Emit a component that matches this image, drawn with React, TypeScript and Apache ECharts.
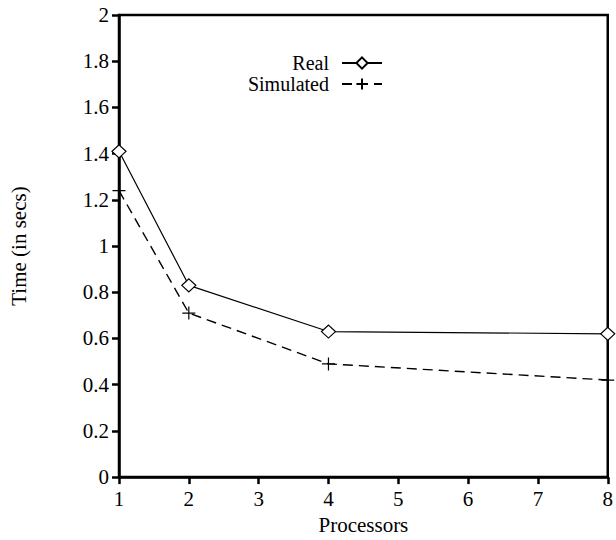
import React, { useEffect, useRef } from "react";
import * as echarts from "echarts";

const processors = [1, 2, 4, 8];
const realTimes = [1.41, 0.83, 0.63, 0.62];
const simulatedTimes = [1.24, 0.71, 0.49, 0.42];

const FONT = "Liberation Serif";
const PLUS = "path://M0,6H12M6,0V12";

export default function App() {
  const ref = useRef<HTMLDivElement>(null);

  useEffect(() => {
    if (!ref.current) return;
    const chart = echarts.init(ref.current, undefined, { renderer: "svg" });
    const axisText = { color: "#000", fontFamily: FONT, fontSize: 21 };
    const legendBase = {
      orient: "horizontal" as const,
      align: "right" as const,
      right: 233,
      padding: 0,
      itemWidth: 40,
      itemHeight: 14,
      textStyle: { ...axisText, fontSize: 20, lineHeight: 17, padding: [0, 8, 0, 0] },
      selectedMode: false,
    };
    chart.setOption({
      animation: false,
      backgroundColor: "#fff",
      grid: {
        left: 117,
        right: 3,
        top: 15,
        bottom: 59,
        show: true,
        borderColor: "#000",
        borderWidth: 2.5,
        backgroundColor: "transparent",
      },
      legend: [
        { ...legendBase, top: 53, data: ["Real"] },
        { ...legendBase, top: 74, data: ["Simulated"] },
      ],
      xAxis: {
        type: "value",
        min: 1,
        max: 8,
        interval: 1,
        name: "Processors",
        nameLocation: "middle",
        nameGap: 31,
        nameTextStyle: { ...axisText },
        axisLine: { lineStyle: { color: "#000", width: 2.5 } },
        axisTick: { length: 7, lineStyle: { color: "#000", width: 2.5 } },
        axisLabel: { ...axisText, margin: 11 },
        splitLine: { show: false },
      },
      yAxis: {
        type: "value",
        min: 0,
        max: 2,
        interval: 0.2,
        name: "Time (in secs)",
        nameLocation: "middle",
        nameGap: 90,
        nameTextStyle: { ...axisText },
        axisLine: { lineStyle: { color: "#000", width: 2.5 } },
        axisTick: { length: 7, lineStyle: { color: "#000", width: 2.5 } },
        axisLabel: { ...axisText, margin: 10 },
        splitLine: { show: false },
      },
      series: [
        {
          name: "Real",
          type: "line",
          data: processors.map((p, i) => [p, realTimes[i]]),
          symbol: "diamond",
          symbolSize: [14, 13],
          clip: false,
          lineStyle: { color: "#000", width: 1.2, type: "solid" },
          itemStyle: { color: "#fff", borderColor: "#000", borderWidth: 1.2 },
        },
        {
          name: "Simulated",
          type: "line",
          data: processors.map((p, i) => [p, simulatedTimes[i]]),
          symbol: PLUS,
          symbolSize: 13,
          clip: false,
          lineStyle: { color: "#000", width: 1.4, type: [10, 6] },
          itemStyle: { color: "#000", borderColor: "#000", borderWidth: 1.2 },
        },
      ],
    });
    return () => chart.dispose();
  }, []);

  return <div ref={ref} style={{ width: 616, height: 540, position: "absolute", left: 0, top: 0 }} />;
}
